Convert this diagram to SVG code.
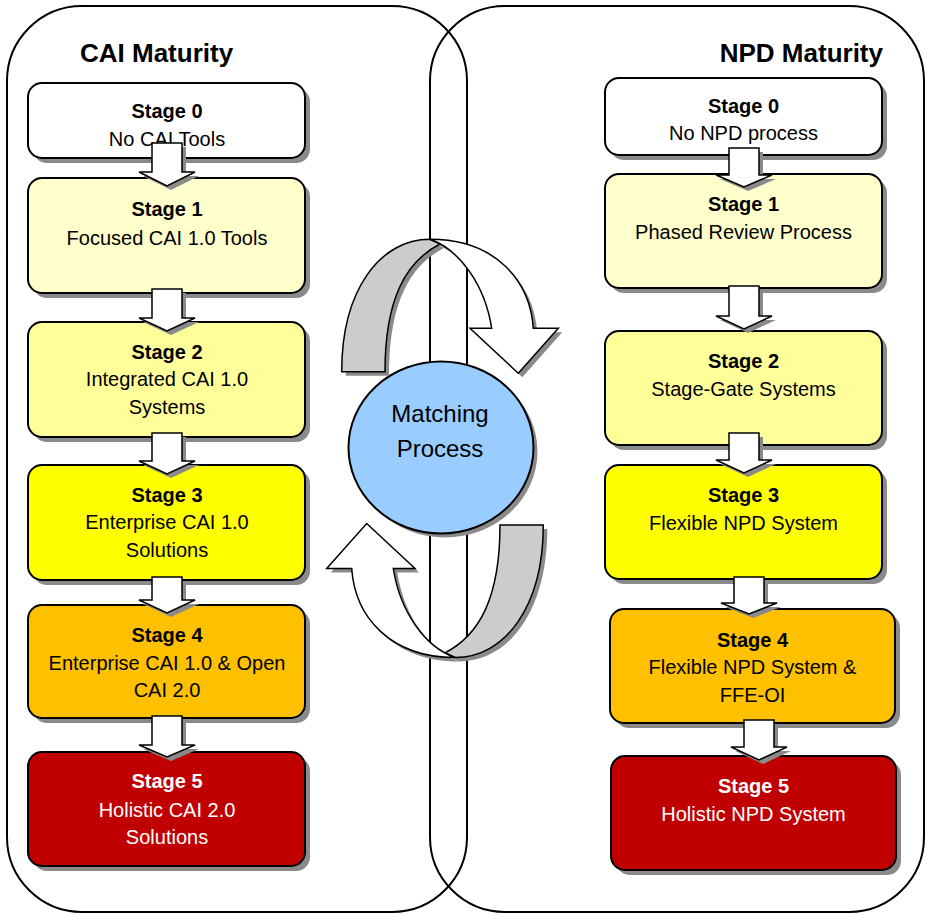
<svg xmlns="http://www.w3.org/2000/svg" xmlns:xlink="http://www.w3.org/1999/xlink" width="927" height="915" viewBox="0 0 927 915">
<style>
.cont{fill:none;stroke:#000;stroke-width:2}
.box{stroke:#000;stroke-width:2}
.shd{fill:#8a8a8a;stroke:none}
.ar{fill:#fff;stroke:#000;stroke-width:1.5}
.t{font-family:"Liberation Sans",Arial,sans-serif;font-size:20px;text-anchor:middle;fill:#000}
.b{font-weight:bold}
.w{fill:#fff}
.title{font-family:"Liberation Sans",Arial,sans-serif;font-size:26px;font-weight:bold;fill:#000}
.s0{fill:#fff}.s1{fill:#ffffcc}.s2{fill:#ffff99}.s3{fill:#ffff00}.s4{fill:#ffc000}.s5{fill:#c00000}
</style>
<defs>
<path id="cb" d="M341.7,371.7 C341.7,290 380,239.3 430,239.3 L440,244 C405,262 385,300 385,371.7 Z"/>
<path id="cf" d="M430,239.3 C495,239.3 530,280 533.3,328.3 L558.3,328.3 L518.3,373.3 L470,328.3 L491.7,328.3 C485,285 460,250 430,239.3 Z"/>
</defs>

<g id="containers">
<rect class="cont" x="7" y="6" width="460" height="906" rx="75"/>
<rect class="cont" x="430" y="6" width="494" height="906" rx="75"/>
<text class="title" x="80" y="62">CAI Maturity</text>
<text class="title" x="883" y="62" text-anchor="end">NPD Maturity</text>
</g>

<g id="cai-stage0">
<rect class="shd" x="33" y="88" width="277" height="75" rx="14"/>
<rect class="box s0" x="28" y="83" width="277" height="75" rx="14"/>
<text class="t b" x="167" y="118">Stage 0</text>
<text class="t" x="167" y="146">No CAI Tools</text>
</g>
<g id="cai-stage1">
<rect class="shd" x="33" y="183" width="277" height="115" rx="14"/>
<rect class="box s1" x="28" y="178" width="277" height="115" rx="14"/>
<text class="t b" x="167" y="216">Stage 1</text>
<text class="t" x="167" y="245">Focused CAI 1.0 Tools</text>
</g>
<g id="cai-stage2">
<rect class="shd" x="33" y="327" width="277" height="115" rx="14"/>
<rect class="box s2" x="28" y="322" width="277" height="115" rx="14"/>
<text class="t b" x="167" y="359">Stage 2</text>
<text class="t" x="167" y="386">Integrated CAI 1.0</text>
<text class="t" x="167" y="414">Systems</text>
</g>
<g id="cai-stage3">
<rect class="shd" x="33" y="470" width="277" height="115" rx="14"/>
<rect class="box s3" x="28" y="465" width="277" height="115" rx="14"/>
<text class="t b" x="167" y="502">Stage 3</text>
<text class="t" x="167" y="529">Enterprise CAI 1.0</text>
<text class="t" x="167" y="557">Solutions</text>
</g>
<g id="cai-stage4">
<rect class="shd" x="33" y="610" width="277" height="113" rx="14"/>
<rect class="box s4" x="28" y="605" width="277" height="113" rx="14"/>
<text class="t b" x="167" y="642">Stage 4</text>
<text class="t" x="167" y="670">Enterprise CAI 1.0 &amp; Open</text>
<text class="t" x="167" y="697">CAI 2.0</text>
</g>
<g id="cai-stage5">
<rect class="shd" x="33" y="757" width="277" height="114" rx="14"/>
<rect class="box s5" x="28" y="752" width="277" height="114" rx="14"/>
<text class="t b w" x="167" y="788">Stage 5</text>
<text class="t w" x="167" y="817">Holistic CAI 2.0</text>
<text class="t w" x="167" y="844">Solutions</text>
</g>

<g id="npd-stage0">
<rect class="shd" x="610" y="83" width="277" height="77" rx="14"/>
<rect class="box s0" x="605" y="78" width="277" height="77" rx="14"/>
<text class="t b" x="743.5" y="113">Stage 0</text>
<text class="t" x="743.5" y="140">No NPD process</text>
</g>
<g id="npd-stage1">
<rect class="shd" x="610" y="179" width="277" height="114" rx="14"/>
<rect class="box s1" x="605" y="174" width="277" height="114" rx="14"/>
<text class="t b" x="743.5" y="211">Stage 1</text>
<text class="t" x="743.5" y="239">Phased Review Process</text>
</g>
<g id="npd-stage2">
<rect class="shd" x="610" y="336" width="277" height="114" rx="14"/>
<rect class="box s2" x="605" y="331" width="277" height="114" rx="14"/>
<text class="t b" x="743.5" y="368">Stage 2</text>
<text class="t" x="743.5" y="396">Stage-Gate Systems</text>
</g>
<g id="npd-stage3">
<rect class="shd" x="610" y="470" width="277" height="114" rx="14"/>
<rect class="box s3" x="605" y="465" width="277" height="114" rx="14"/>
<text class="t b" x="743.5" y="502">Stage 3</text>
<text class="t" x="743.5" y="530">Flexible NPD System</text>
</g>
<g id="npd-stage4">
<rect class="shd" x="615" y="614" width="285" height="114" rx="14"/>
<rect class="box s4" x="610" y="609" width="285" height="114" rx="14"/>
<text class="t b" x="752.5" y="647">Stage 4</text>
<text class="t" x="752.5" y="674">Flexible NPD System &amp;</text>
<text class="t" x="752.5" y="702">FFE-OI</text>
</g>
<g id="npd-stage5">
<rect class="shd" x="616" y="761" width="285" height="114" rx="14"/>
<rect class="box s5" x="611" y="756" width="285" height="114" rx="14"/>
<text class="t b w" x="753.5" y="793">Stage 5</text>
<text class="t w" x="753.5" y="821">Holistic NPD System</text>
</g>

<g id="matching-process">
<ellipse class="shd" cx="445" cy="451.5" rx="92.5" ry="86"/>
<ellipse cx="441" cy="447.5" rx="92.5" ry="86" fill="#99ccff" stroke="#000" stroke-width="2"/>
<text class="t" x="440" y="422" style="font-size:24px">Matching</text>
<text class="t" x="440" y="457" style="font-size:24px">Process</text>
</g>

<g id="connectors">
<g id="cycle-arrows">
<use xlink:href="#cb" class="shd" transform="translate(4 4)"/>
<use xlink:href="#cf" class="shd" transform="translate(4 4)"/>
<use xlink:href="#cb" fill="#cccccc" stroke="#000" stroke-width="1.5"/>
<use xlink:href="#cf" fill="#fff" stroke="#000" stroke-width="1.5"/>
<use xlink:href="#cb" class="shd" transform="translate(4 4) rotate(180 442.5 448.4)"/>
<use xlink:href="#cf" class="shd" transform="translate(4 4) rotate(180 442.5 448.4)"/>
<use xlink:href="#cb" fill="#cccccc" stroke="#000" stroke-width="1.5" transform="rotate(180 442.5 448.4)"/>
<use xlink:href="#cf" fill="#fff" stroke="#000" stroke-width="1.5" transform="rotate(180 442.5 448.4)"/>
</g>
<g id="cai-arrows">
<path class="shd" transform="translate(4 4)" d="M152,143 H182 V172 H195 L167,186 L139,172 H152 Z"/>
<path class="ar" d="M152,143 H182 V172 H195 L167,186 L139,172 H152 Z"/>
<path class="shd" transform="translate(4 4)" d="M152,289 H182 V318 H195 L167,331 L139,318 H152 Z"/>
<path class="ar" d="M152,289 H182 V318 H195 L167,331 L139,318 H152 Z"/>
<path class="shd" transform="translate(4 4)" d="M152,433 H182 V461 H195 L167,474 L139,461 H152 Z"/>
<path class="ar" d="M152,433 H182 V461 H195 L167,474 L139,461 H152 Z"/>
<path class="shd" transform="translate(4 4)" d="M152,577 H182 V600 H195 L167,613 L139,600 H152 Z"/>
<path class="ar" d="M152,577 H182 V600 H195 L167,613 L139,600 H152 Z"/>
<path class="shd" transform="translate(4 4)" d="M152,716 H182 V745 H195 L167,757 L139,745 H152 Z"/>
<path class="ar" d="M152,716 H182 V745 H195 L167,757 L139,745 H152 Z"/>
</g>
<g id="npd-arrows">
<path class="shd" transform="translate(4 4)" d="M729,148 H759 V175 H772 L744,187 L716,175 H729 Z"/>
<path class="ar" d="M729,148 H759 V175 H772 L744,187 L716,175 H729 Z"/>
<path class="shd" transform="translate(4 4)" d="M729,286 H759 V316 H772 L744,329 L716,316 H729 Z"/>
<path class="ar" d="M729,286 H759 V316 H772 L744,329 L716,316 H729 Z"/>
<path class="shd" transform="translate(4 4)" d="M729,433 H759 V460 H772 L744,473 L716,460 H729 Z"/>
<path class="ar" d="M729,433 H759 V460 H772 L744,473 L716,460 H729 Z"/>
<path class="shd" transform="translate(4 4)" d="M734,577 H764 V603 H777 L749,614 L721,603 H734 Z"/>
<path class="ar" d="M734,577 H764 V603 H777 L749,614 L721,603 H734 Z"/>
<path class="shd" transform="translate(4 4)" d="M744,720 H774 V747 H787 L759,760 L731,747 H744 Z"/>
<path class="ar" d="M744,720 H774 V747 H787 L759,760 L731,747 H744 Z"/>
</g>
</g>
</svg>
